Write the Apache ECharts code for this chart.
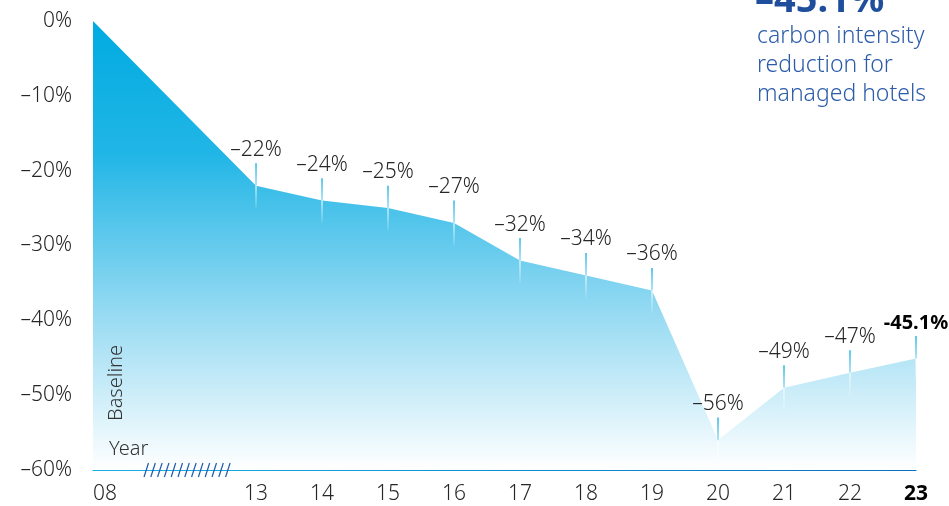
<!DOCTYPE html>
<html>
<head>
<meta charset="utf-8">
<script src="https://cdn.jsdelivr.net/npm/echarts@6/dist/echarts.min.js"></script>
<style>
html,body{margin:0;padding:0;background:#fff;}
#chart{width:949px;height:506px;}
</style>
</head>
<body>
<div id="chart"></div>
<script>
// ---- data ----
const yearLabels = ['08','13','14','15','16','17','18','19','20','21','22','23'];
const years = [8,13,14,15,16,17,18,19,20,21,22,23];
const reduction = [0,-22,-24,-25,-27,-32,-34,-36,-56,-49,-47,-45.1];
const pointLabels = ['','–22%','–24%','–25%','–27%','–32%','–34%','–36%','–56%','–49%','–47%','-45.1%'];
const yTicks = [0,-10,-20,-30,-40,-50,-60];
const yTickLabels = ['0%','–10%','–20%','–30%','–40%','–50%','–60%'];
// the axis is broken between 08 and 13: baseline year sits at this axis position
const BREAK_POS = 10.53;

const FONT = '"Noto Sans", sans-serif';
const xPos = years.map(y => y < 13 ? BREAK_POS : y);
const lineData = xPos.map((x, i) => [x, reduction[i]]);
const tickData = xPos.map((x, i) => [x, reduction[i], i]).slice(1);

const chart = echarts.init(document.getElementById('chart'), null, {renderer: 'canvas'});

// hatch marks (axis break decoration)
const hatch = [];
for (let i = 0; i < 13; i++) {
  hatch.push({type: 'line', shape: {x1: 144 + i * 6.8, y1: 477, x2: 148.5 + i * 6.8, y2: 463},
    style: {stroke: '#1f5bab', lineWidth: 1.2}, z: 100});
}

chart.setOption({
  animation: false,
  grid: {left: 93, right: 33, top: 21, bottom: 36},
  xAxis: {
    type: 'value', min: BREAK_POS, max: 23,
    splitLine: {show: false},
    axisLine: {show: true, onZero: false, lineStyle: {width: 1.2,
      color: new echarts.graphic.LinearGradient(0, 0, 1, 0, [
        {offset: 0, color: '#16b0e6'}, {offset: 1, color: '#0a6fc2'}])}},
    axisTick: {show: false},
    axisLabel: {
      customValues: xPos,
      alignMinLabel: 'left',
      margin: 14,
      fontFamily: FONT, fontSize: 21, fontWeight: 300, color: '#262626',
      formatter: v => {
        const i = xPos.indexOf(v);
        const t = yearLabels[i];
        return i === yearLabels.length - 1 ? '{b|' + t + '}' : t;
      },
      rich: {b: {fontFamily: FONT, fontSize: 21, fontWeight: 'bold', color: '#000'}}
    }
  },
  yAxis: {
    type: 'value', min: -60, max: 0, interval: 10,
    splitLine: {show: false},
    axisLine: {show: false}, axisTick: {show: false},
    axisLabel: {
      margin: 21, fontFamily: FONT, fontSize: 21, fontWeight: 300, color: '#262626',
      formatter: v => yTickLabels[yTicks.indexOf(v)]
    }
  },
  graphic: [
    {type: 'text', left: 755, top: -18, z: 100, style: {text: '–45.1%', font: 'bold 38px ' + FONT, fill: '#1f4e9c'}},
    {type: 'text', left: 757, top: 22, z: 100, style: {text: 'carbon intensity\nreduction for\nmanaged hotels',
      font: '300 23px ' + FONT, fill: '#2c5ba9', lineHeight: 29}},
    {type: 'text', left: 109, top: 439, z: 100, style: {text: 'Year', font: '300 20px ' + FONT, fill: '#333'}},
    {type: 'text', x: 106, y: 421, rotation: Math.PI / 2, z: 100,
      style: {text: 'Baseline', font: '300 20px ' + FONT, fill: '#333', align: 'left', verticalAlign: 'top'}},
    ...hatch
  ],
  series: [
    {
      type: 'line', data: lineData, symbol: 'none',
      lineStyle: {width: 0},
      areaStyle: {origin: 'start', opacity: 1,
        color: new echarts.graphic.LinearGradient(0, 0, 0, 1, [
          {offset: 0, color: '#00abe1'},
          {offset: 0.3, color: '#22b6e6'},
          {offset: 0.65, color: '#96daf2'},
          {offset: 1, color: '#ffffff'}])},
      z: 1
    },
    {
      type: 'custom', data: tickData, clip: false, z: 5,
      renderItem: (params, api) => {
        const x = api.value(0), y = api.value(1), i = api.value(2);
        const pTop = api.coord([x, y + 3]);
        const pBot = api.coord([x, y - 3]);
        const last = i === reduction.length - 1;
        return {type: 'group', children: [
          {type: 'line', shape: {x1: pTop[0], y1: pTop[1], x2: pBot[0], y2: pBot[1]},
            style: {lineWidth: 1.3, stroke: new echarts.graphic.LinearGradient(0, 0, 0, 1, [
              {offset: 0, color: '#00a9e0'}, {offset: 0.48, color: '#7fd2f0'},
              {offset: 0.52, color: 'rgba(255,255,255,0.85)'}, {offset: 1, color: 'rgba(255,255,255,0.1)'}])}},
          {type: 'text', style: {text: pointLabels[i], x: pTop[0], y: pTop[1] - 3,
            align: 'center', verticalAlign: 'bottom',
            font: (last ? 'bold 20px ' : '300 21px ') + FONT, fill: last ? '#000' : '#262626'}}
        ]};
      }
    }
  ]
});
</script>
</body>
</html>
